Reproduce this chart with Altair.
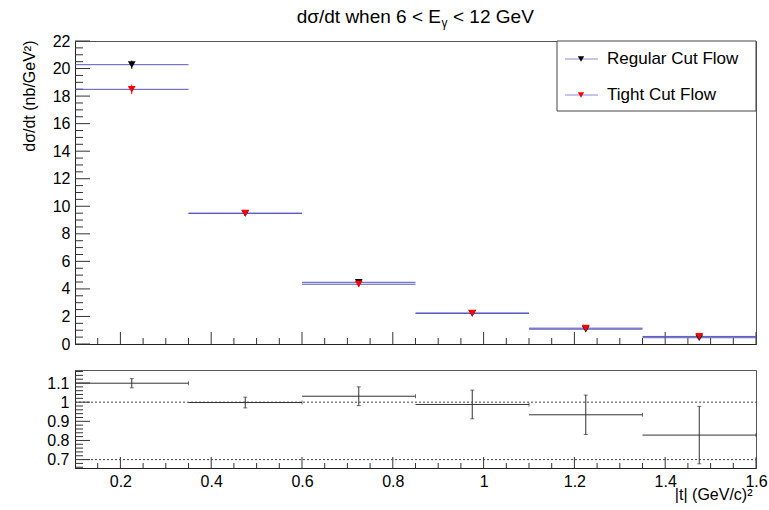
import altair as alt
import pandas as pd

FONT = "Liberation Sans"

# ---------------- data ----------------
t_lo = [0.10, 0.35, 0.60, 0.85, 1.10, 1.35]
t_hi = [0.35, 0.60, 0.85, 1.10, 1.35, 1.60]
t_mid = [0.225, 0.475, 0.725, 0.975, 1.225, 1.475]

regular = [20.28, 9.48, 4.48, 2.22, 1.075, 0.455]
regular_err = [0.30, 0.18, 0.14, 0.10, 0.07, 0.05]
tight = [18.49, 9.50, 4.34, 2.25, 1.15, 0.55]
tight_err = [0.35, 0.20, 0.16, 0.11, 0.08, 0.06]

ratio = [1.099, 0.998, 1.031, 0.988, 0.934, 0.828]
ratio_err = [0.024, 0.028, 0.049, 0.075, 0.103, 0.150]

ref_lines = [1.0, 0.7]

legend_labels = ["Regular Cut Flow", "Tight Cut Flow"]
legend_colors = ["black", "red"]

x_major = [0.2, 0.4, 0.6, 0.8, 1.0, 1.2, 1.4, 1.6]
x_minor = [round(0.15 + 0.05 * i, 2) for i in range(29) if round((0.15 + 0.05 * i) * 100) % 20 != 0]
top_y_major = [0, 2, 4, 6, 8, 10, 12, 14, 16, 18, 20, 22]
top_y_minor = [round(0.5 * i, 1) for i in range(45) if i % 4 != 0]
bot_y_major = [0.7, 0.8, 0.9, 1.0, 1.1]
bot_y_minor = [round(0.66 + 0.02 * i, 2) for i in range(26) if round((0.66 + 0.02 * i) * 100) % 10 != 0]

W, H_TOP, H_BOT = 681, 303, 98
LINE_BLUE = "#5656bf"
DARK = "#333333"

# ---------------- scales / axes ----------------
xs = alt.Scale(domain=[0.1, 1.6], nice=False, zero=False)
ys_top = alt.Scale(domain=[0, 22], nice=False, zero=False)
ys_bot = alt.Scale(domain=[0.656, 1.168], nice=False, zero=False)

ax_x_top = alt.Axis(labels=False, ticks=False, grid=False, title=None,
                    domainColor="#222222", domainWidth=1)
ax_x_bot = alt.Axis(values=x_major, ticks=False, grid=False, format="~g",
                    labelFont=FONT, labelFontSize=16, labelColor="black",
                    labelPadding=5, labelFlush=False, labelOverlap=False,
                    domainColor="#222222", domainWidth=1,
                    title="|t| (GeV/c)²", titleFont=FONT, titleFontSize=16,
                    titleFontWeight="normal", titleColor="black",
                    titleX=677, titleY=31, titleAlign="right",
                    titleBaseline="alphabetic", titleAnchor="end")
ax_y_top = alt.Axis(values=top_y_major, ticks=False, grid=False,
                    labelFont=FONT, labelFontSize=16, labelColor="black",
                    labelPadding=5, labelFlush=False, labelOverlap=False,
                    domainColor="#222222", domainWidth=1,
                    title="dσ/dt (nb/GeV²)", titleFont=FONT, titleFontSize=16,
                    titleFontWeight="normal", titleColor="black",
                    titleAngle=270, titleX=-46, titleY=-1,
                    titleAlign="right", titleBaseline="middle")
ax_y_bot = alt.Axis(values=bot_y_major, ticks=False, grid=False, format="~g",
                    labelFont=FONT, labelFontSize=16, labelColor="black",
                    labelPadding=6, labelFlush=False, labelOverlap=False,
                    domainColor="#222222", domainWidth=1, title=None)


def X(field, top=True):
    return alt.X(field, type="quantitative", scale=xs,
                 axis=ax_x_top if top else ax_x_bot)


def YT(field):
    return alt.Y(field, type="quantitative", scale=ys_top, axis=ax_y_top)


def YB(field):
    return alt.Y(field, type="quantitative", scale=ys_bot, axis=ax_y_bot)


# ---------------- tables ----------------
top_df = pd.DataFrame({
    "lo": t_lo * 2, "hi": t_hi * 2, "mid": t_mid * 2,
    "val": regular + tight,
    "elo": [v - e for v, e in zip(regular, regular_err)] + [v - e for v, e in zip(tight, tight_err)],
    "ehi": [v + e for v, e in zip(regular, regular_err)] + [v + e for v, e in zip(tight, tight_err)],
    "series": ["Regular"] * 6 + ["Tight"] * 6,
})
reg_df = top_df[top_df.series == "Regular"]
tig_df = top_df[top_df.series == "Tight"]

bot_df = pd.DataFrame({
    "lo": t_lo, "hi": t_hi, "mid": t_mid, "val": ratio,
    "elo": [r - e for r, e in zip(ratio, ratio_err)],
    "ehi": [r + e for r, e in zip(ratio, ratio_err)],
})
one = pd.DataFrame({"k": [0]})

# ---------------- top panel ----------------
hbars_reg = alt.Chart(reg_df).mark_rule(color=LINE_BLUE, strokeWidth=1).encode(
    x=X("lo"), x2="hi", y=YT("val"))
hbars_tig = alt.Chart(tig_df).mark_rule(color=LINE_BLUE, strokeWidth=1).encode(
    x=X("lo"), x2="hi", y=YT("val"))
vbars_reg = alt.Chart(reg_df).mark_rule(color="black", strokeWidth=1).encode(
    x=X("mid"), y=YT("elo"), y2="ehi")
vbars_tig = alt.Chart(tig_df).mark_rule(color="red", strokeWidth=1).encode(
    x=X("mid"), y=YT("elo"), y2="ehi")
pts_reg = alt.Chart(reg_df).mark_point(shape="triangle-down", filled=True, size=60,
                                       color="black", opacity=1).encode(x=X("mid"), y=YT("val"))
pts_tig = alt.Chart(tig_df).mark_point(shape="triangle-down", filled=True, size=60,
                                       color="red", opacity=1).encode(x=X("mid"), y=YT("val"))

def top_yticks(vals, length):
    return alt.Chart(pd.DataFrame({"v": vals})).mark_rule(color=DARK, strokeWidth=1).encode(
        y=YT("v"), x=alt.value(0), x2=alt.value(length))

def top_xticks(vals, length):
    return alt.Chart(pd.DataFrame({"v": vals})).mark_rule(color=DARK, strokeWidth=1).encode(
        x=X("v"), y=alt.value(H_TOP), y2=alt.value(H_TOP - length))

# title with subscript gamma
XE = 366
title1 = alt.Chart(one).mark_text(text="dσ/dt when 6 < E", font=FONT, fontSize=19, align="right",
                                  baseline="alphabetic", color="black").encode(
    x=alt.value(XE), y=alt.value(-18))
title2 = alt.Chart(one).mark_text(text="γ", font=FONT, fontSize=12, align="left",
                                  baseline="alphabetic", color="black").encode(
    x=alt.value(XE + 0.5), y=alt.value(-14))
title3 = alt.Chart(one).mark_text(text="< 12 GeV", font=FONT, fontSize=19, align="left",
                                  baseline="alphabetic", color="black").encode(
    x=alt.value(XE + 12), y=alt.value(-18))

# legend
LX0, LX1, LY1 = 482, 681, 70
leg_box = alt.Chart(one).mark_rect(fill="white", stroke="#444444", strokeWidth=1).encode(
    x=alt.value(LX0), x2=alt.value(LX1), y=alt.value(0), y2=alt.value(LY1))
leg_layers = []
for lab, col, ly in zip(legend_labels, legend_colors, [18, 54]):
    leg_layers.append(alt.Chart(one).mark_rule(color="#8a8ae0", strokeWidth=1).encode(
        x=alt.value(490), x2=alt.value(523), y=alt.value(ly)))
    leg_layers.append(alt.Chart(one).mark_point(shape="triangle-down", filled=True, size=40,
                                                color=col, opacity=1).encode(
        x=alt.value(506), y=alt.value(ly)))
    leg_layers.append(alt.Chart(one).mark_text(text=lab, font=FONT, fontSize=17, align="left",
                                               baseline="middle", color="black").encode(
        x=alt.value(532), y=alt.value(ly)))

guide_top = alt.Chart(one).mark_rule(strokeOpacity=0, strokeWidth=1).encode(
    x=alt.value(-74.5), x2=alt.value(693.5), y=alt.value(-40.5))

top = alt.layer(
    guide_top,
    top_yticks(top_y_major, 15), top_yticks(top_y_minor, 8),
    top_xticks(x_major, 12), top_xticks(x_minor, 6),
    hbars_reg, hbars_tig, vbars_reg, vbars_tig, pts_reg, pts_tig,
    leg_box, *leg_layers,
    title1, title2, title3,
).properties(width=W, height=H_TOP)

# ---------------- bottom panel ----------------
def bot_yticks(vals, length):
    return alt.Chart(pd.DataFrame({"v": vals})).mark_rule(color=DARK, strokeWidth=1).encode(
        y=YB("v"), x=alt.value(0), x2=alt.value(length))

def bot_xticks(vals, length):
    return alt.Chart(pd.DataFrame({"v": vals})).mark_rule(color=DARK, strokeWidth=1).encode(
        x=X("v", top=False), y=alt.value(H_BOT), y2=alt.value(H_BOT - length))

refs = alt.Chart(pd.DataFrame({"r": ref_lines})).mark_rule(
    color="#444444", strokeWidth=1, strokeDash=[2, 2]).encode(
    y=YB("r"), x=alt.value(0), x2=alt.value(W))
rh = alt.Chart(bot_df).mark_rule(color=DARK, strokeWidth=1).encode(
    x=X("lo", top=False), x2="hi", y=YB("val"))
rv = alt.Chart(bot_df).mark_rule(color=DARK, strokeWidth=1).encode(
    x=X("mid", top=False), y=YB("elo"), y2="ehi")
cap_lo = alt.Chart(bot_df).mark_tick(orient="horizontal", size=4, thickness=1, color=DARK).encode(
    x=X("mid", top=False), y=YB("elo"))
cap_hi = alt.Chart(bot_df).mark_tick(orient="horizontal", size=4, thickness=1, color=DARK).encode(
    x=X("mid", top=False), y=YB("ehi"))
cap_r = alt.Chart(bot_df).mark_tick(orient="vertical", size=4, thickness=1, color=DARK).encode(
    x=X("hi", top=False), y=YB("val"))

guide_bot = alt.Chart(one).mark_rule(strokeOpacity=0, strokeWidth=1).encode(
    x=alt.value(-74.5), x2=alt.value(693.5), y=alt.value(139.5))

bottom = alt.layer(
    guide_bot,
    bot_yticks(bot_y_major, 15), bot_yticks(bot_y_minor, 8),
    bot_xticks(x_major, 11), bot_xticks(x_minor, 5),
    refs, rh, rv, cap_lo, cap_hi, cap_r,
).properties(width=W, height=H_BOT)

chart = alt.vconcat(top, bottom, spacing=26, bounds="flush").properties(
    padding=0, background="white"
).configure_view(stroke="#555555", strokeWidth=1).configure_concat(spacing=26)

chart.save("out.html", embed_options={"renderer": "svg", "actions": False})
